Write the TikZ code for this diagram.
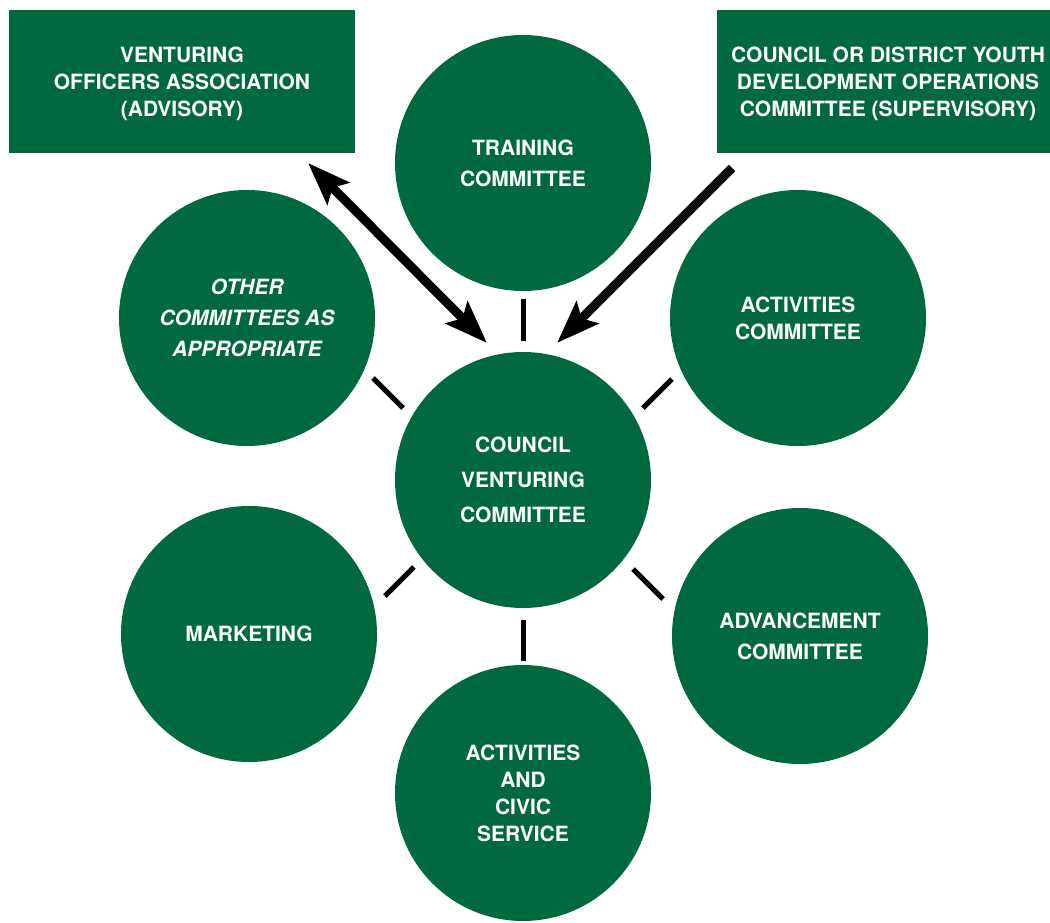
\documentclass[tikz,border=0pt]{standalone}
\usepackage{fontspec}
\setmainfont{TeX Gyre Heros}
\usetikzlibrary{arrows.meta}
\definecolor{bsagreen}{RGB}{0,105,63}
\begin{document}
\begin{tikzpicture}[x=0.75pt,y=-0.75pt,
  committee/.style={circle, fill=bsagreen, minimum size=192pt, inner sep=0pt, text=white,
    font=\bfseries\fontsize{15.75}{23.25}\selectfont, align=center},
  board/.style={rectangle, fill=bsagreen, inner sep=0pt, minimum height=107.25pt},
  boardtext/.style={text=white, inner sep=0pt,
    font=\bfseries\fontsize{15.75}{20.25}\selectfont, align=center},
  tickline/.style={line width=3.75pt, black},
  bigarrow/.style={line width=6.75pt, black},
]
\useasboundingbox (0,0) rectangle (1050,922);

% boxes
\node[board, minimum width=259.5pt] (voa) at (182,81.5) {};
\node[boardtext] (voaText) at (182,84) {VENTURING\\OFFICERS ASSOCIATION\\(ADVISORY)};
\node[board, minimum width=249.75pt] (ydo) at (883.5,81.5) {};
\node[boardtext] (ydoText) at (888,84) {COUNCIL OR DISTRICT YOUTH\\DEVELOPMENT OPERATIONS\\COMMITTEE (SUPERVISORY)};

% circles
\node[committee, font=\bfseries\fontsize{15.75}{26.25}\selectfont] (cvc) at (523,480) {COUNCIL\\VENTURING\\COMMITTEE};
\node[committee] (train) at (523,163) {TRAINING\\COMMITTEE};
\node[committee, font=\bfseries\fontsize{15.75}{20.25}\selectfont] (act) at (798,318) {ACTIVITIES\\COMMITTEE};
\node[committee, font=\bfseries\itshape\fontsize{15.75}{23.25}\selectfont] (other) at (247,318) {OTHER\\COMMITTEES AS\\APPROPRIATE};
\node[committee] (mkt) at (249,634) {MARKETING};
\node[committee] (adv) at (800,636) {ADVANCEMENT\\COMMITTEE};
\node[committee, font=\bfseries\fontsize{15.75}{20.25}\selectfont] (civic) at (523,793) {ACTIVITIES\\AND\\CIVIC\\SERVICE};

% tick connectors
\coordinate (t1a) at (523,299); \coordinate (t1b) at (523,341);
\coordinate (t2a) at (672,379); \coordinate (t2b) at (643,408);
\coordinate (t3a) at (373,378); \coordinate (t3b) at (403,408);
\coordinate (t4a) at (414,567); \coordinate (t4b) at (385,596);
\coordinate (t5a) at (633,569); \coordinate (t5b) at (663,599);
\coordinate (t6a) at (523,620); \coordinate (t6b) at (523,661);
\draw[tickline] (t1a) -- (t1b);
\draw[tickline] (t2a) -- (t2b);
\draw[tickline] (t3a) -- (t3b);
\draw[tickline] (t4a) -- (t4b);
\draw[tickline] (t5a) -- (t5b);
\draw[tickline] (t6a) -- (t6b);

% arrows
\coordinate (voaTip) at (308,163);
\coordinate (cvcTipL) at (487,343);
\coordinate (ydoTail) at (732,168);
\coordinate (cvcTipR) at (557,343);
\draw[bigarrow, {Stealth[length=32pt,width=23pt,inset=6pt]}-{Stealth[length=32pt,width=23pt,inset=6pt]}] (voaTip) -- (cvcTipL);
\draw[bigarrow, -{Stealth[length=32pt,width=23pt,inset=6pt]}] (ydoTail) -- (cvcTipR);
\end{tikzpicture}
\end{document}
